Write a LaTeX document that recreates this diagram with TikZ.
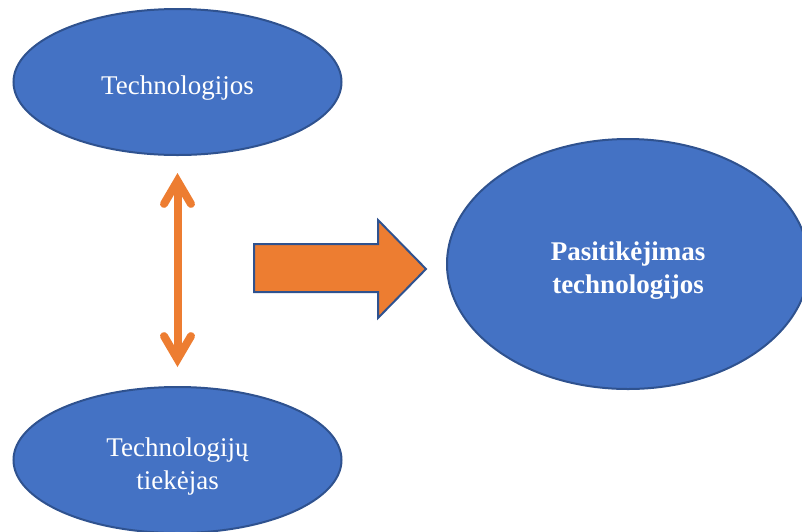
\documentclass[tikz,border=0pt]{standalone}
\usepackage{fontspec}
\setmainfont{Liberation Serif}
\usetikzlibrary{shapes.geometric,arrows.meta}
\definecolor{bubblefill}{HTML}{4472C4}
\definecolor{bubbleline}{HTML}{2F528F}
\definecolor{accent}{HTML}{ED7D31}
% centred lines of text, set a little below the middle of their shape
\newcommand{\lowtext}[1]{\raisebox{-6pt}[\height][\depth]{\begin{tabular}{@{}c@{}}#1\end{tabular}}}
\begin{document}
\begin{tikzpicture}[x=1pt,y=-1pt,
  bubble/.style={ellipse, draw=bubbleline, line width=2pt, fill=bubblefill,
    text=white, inner sep=0pt,
    font=\fontsize{27}{33}\selectfont},
  linkarrow/.style={draw=accent, line width=8pt,
    {Straight Barb[length=23pt,width=27pt,line cap=round,line join=miter]}-{Straight Barb[length=23pt,width=27pt,line cap=round,line join=miter]}},
  blockarrow/.style={fill=accent, draw=bubbleline, line width=2pt, line join=miter}]
\useasboundingbox (0,0) rectangle (802,531);
\clip (0,0) rectangle (802,531);
% three concepts
\node[bubble, minimum width=328pt, minimum height=146pt] (tech) at (177.5,82) {\lowtext{Technologijos}};
\node[bubble, minimum width=328pt, minimum height=146pt] (supplier) at (177.5,460) {\lowtext{Technologijų\\tiekėjas}};
\node[bubble, minimum width=362pt, minimum height=250pt, font=\fontsize{27}{33}\selectfont\bfseries] (trust) at (628,264) {\lowtext{Pasitikėjimas\\technologijos}};
% two-way link between technology and supplier
\draw[linkarrow, shorten <=17pt, shorten >=19pt] (tech.south) -- (supplier.north);
% block arrow towards trust
\coordinate (arrowtip) at (426,269);
\draw[blockarrow] (254,244) -- (378,244) -- (378,220) -- (arrowtip) -- (378,318) -- (378,292) -- (254,292) -- cycle;
\end{tikzpicture}
\end{document}
